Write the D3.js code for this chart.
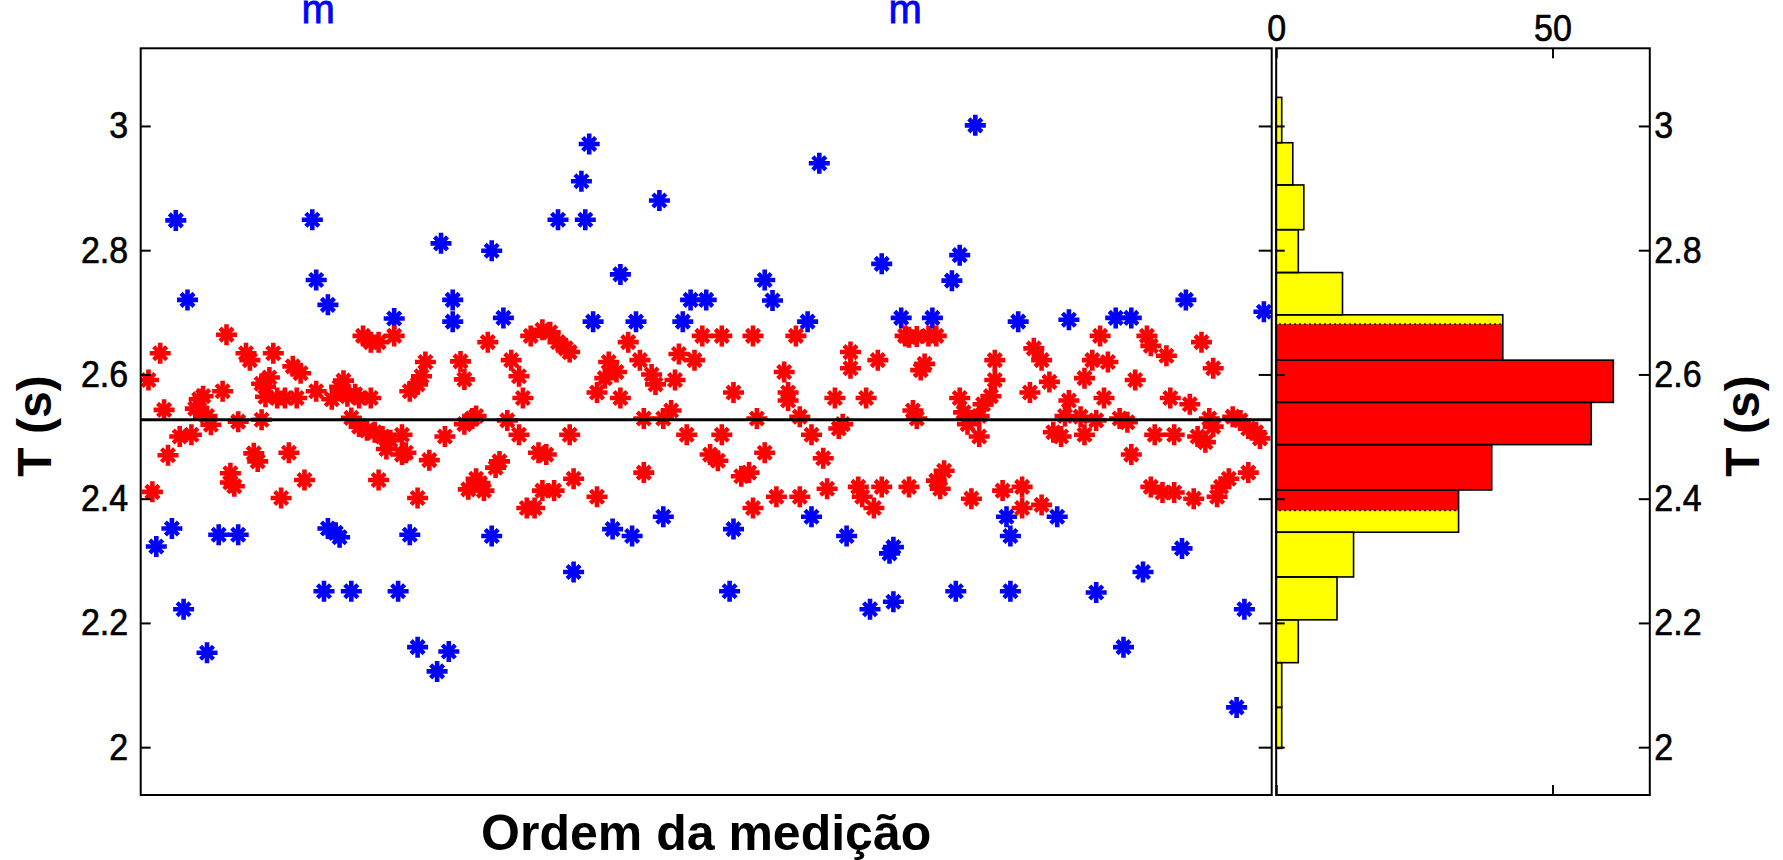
<!DOCTYPE html>
<html><head><meta charset="utf-8">
<script src="https://cdn.jsdelivr.net/npm/d3@7"></script>
<style>html,body{margin:0;padding:0;background:#fff;} svg{display:block;}</style>
</head><body>
<svg id="chart" width="1783" height="860"></svg>
<script>
// ---------------- data ----------------
const ordem = [
 2,3,4,5,6,7,8,9,10,11, 12,13,14,15,16,17,17,18,20,21, 22,23,23,24,25,25,27,28,29,30,
 31,31,32,32,33,34,35,36,37,38, 39,40,41,42,44,45,45,47,48,
 48,49,50,51,51,52,53,54,54,55, 56,56,57,58,59,59,60,61,61,62, 63,64,65,65,66,67,67,68,69,69,
 71,71,71,72,73,74,76,77,78,79, 80,80,82,83,83,84,85,86,86,87, 88,89,90,90,91,92,
 93,94,95,97,97,98,99,100,101,102, 103,103,104,105,106,107,107,109,110,110, 111,111,113,114,115,116,117,117,119,120,
 121,122,123,123,125,126,127,128,129,129, 131,132,133,134,134,136,137,138,139,140, 141,
 142,144,145,146,148,149,149,151,152,152, 154,156,157,157,158,160,160,162,163,165, 166,166,168,169,169,171,172,172,174,175,
 176,178,179,180,181,182,182,184,185,186, 187,188,189,190,190,
 192,193,193,195,196,197,197,198,199,199, 200,201,202,203,204,204,205,206,208,209, 210,210,211,212,213,214,215,215,216,218,
 219,219,221,222,223,223,225,226,226,228, 229,231,231,233,234,235,236,237,238,238,
 241,242,242,244,245,245,246,247,248,250, 251,252,253,254,254,255,257,258,259,259, 260,262,263,264,265,265,267,268,269,270,
 271,272,273,274,275,275,276,277,279,280, 281,282,283,284,284,286,287,288
];
const periodo = [
 2.591,2.411,2.323,2.634,2.543,2.470,2.352,2.848,2.500,2.222, 2.720,2.503,2.545,2.560,2.565,2.152,2.533,2.519,2.342,2.573,
 2.664,2.441,2.426,2.420,2.342,2.524,2.634,2.623,2.473,2.460, 2.585,2.527,2.564,2.580,2.595,2.634,2.562,2.401,2.562,2.474,
 2.613,2.562,2.602,2.430,2.849,2.573,2.752,2.251,2.712,
 2.352,2.560,2.345,2.580,2.338,2.590,2.565,2.251,2.530,2.568, 2.516,2.562,2.662,2.510,2.562,2.652,2.507,2.430,2.652,2.500,
 2.480,2.494,2.690,2.662,2.251,2.503,2.471,2.474,2.342,2.573, 2.584,2.161,2.401,2.597,2.620,2.462,2.122,2.811,2.500,2.154,
 2.685,2.720,2.621,2.520,2.592,2.415,2.529,2.533,2.432,2.425, 2.413,2.652,2.799,2.340,2.450,2.460,
 2.691,2.526,2.623,2.597,2.503,2.562,2.385,2.662,2.385,2.474, 2.413,2.672,2.471,2.668,2.413,2.849,2.652,2.642,2.636,2.503,
 2.432,2.282,2.911,2.849,2.971,2.685,2.403,2.571,2.594,2.620, 2.351,2.604,2.562,2.761,2.652,2.340,2.685,2.623,2.442,2.529,
 2.600,2.584,2.880,2.529,2.371,2.542,2.591,2.633,2.685,2.503, 2.720,
 2.623,2.662,2.720,2.471,2.461,2.503,2.662,2.251,2.571,2.351, 2.436,2.442,2.662,2.385,2.529,2.474,2.752,2.719,2.403,2.604,
 2.571,2.558,2.662,2.403,2.532,2.685,2.503,2.371,2.940,2.465, 2.416,2.562,2.513,2.520,2.340,2.610,2.636,2.419,2.403,2.562,
 2.222,2.385,2.623,2.419,2.778,
 2.312,2.234,2.322,2.691,2.662,2.419,2.660,2.542,2.661,2.529, 2.607,2.617,2.662,2.691,2.662,2.429,2.416,2.445,2.751,2.251,
 2.792,2.562,2.539,2.520,2.400,3.001,2.500,2.533,2.552,2.565, 2.591,2.623,2.413,2.371,2.251,2.340,2.685,2.385,2.419,2.571,
 2.642,2.390,2.623,2.588,2.507,2.371,2.500,2.533,2.688,2.558,
 2.532,2.503,2.594,2.623,2.249,2.526,2.662,2.562,2.620,2.691, 2.529,2.161,2.523,2.471,2.691,2.591,2.282,2.662,2.646,2.419,
 2.503,2.410,2.630,2.562,2.410,2.503,2.320,2.720,2.552,2.400, 2.500,2.652,2.491,2.529,2.610,2.516,2.403,2.419,2.432,2.532,
 2.064,2.526,2.222,2.513,2.442,2.507,2.497,2.701
];
const media = 2.527;          // mean line
const limInf = 2.381;         // lower limit of accepted band
const limSup = 2.681;         // upper limit of accepted band

const binEdges = [1.998,2.064,2.136,2.205,2.274,2.346,2.414,2.487,2.555,2.623,2.696,2.764,2.833,2.905,2.973,3.046];
const contagens = [1,1,4,11,14,33,39,57,61,41,12,4,5,3,1];

const yTicks = [2, 2.2, 2.4, 2.6, 2.8, 3];
const yTickLabels = ["2","2.2","2.4","2.6","2.8","3"];
const histTicks = [0, 50];
const histTickLabels = ["0","50"];
const xLim = [0, 290];
const yLim = [1.923, 3.125];
const histLim = [0, 67.6];
const topLabels = ["m", "m"];
const topLabelOrdem = [45.5, 196];
const xTitle = "Ordem da medição";
const yTitle = "T (s)";

// ---------------- layout ----------------
const FONT = "'Liberation Sans', Arial, Helvetica, sans-serif";
const L = {x0: 140.7, x1: 1271.7, y0: 48.3, y1: 795};
const H = {x0: 1276.2, x1: 1649.8};
const svg = d3.select("#chart");

const x = d3.scaleLinear().domain(xLim).range([L.x0, L.x1]);
const y = d3.scaleLinear().domain(yLim).range([L.y1, L.y0]);
const hx = d3.scaleLinear().domain(histLim).range([H.x0, H.x1]);

const pts = ordem.map((o, i) => ({o, t: periodo[i]}));
const cor = t => (t >= limInf && t <= limSup) ? "#ff0000" : "#0000ff";

// clip for scatter panel
svg.append("clipPath").attr("id", "clipL").append("rect")
  .attr("x", L.x0).attr("y", L.y0).attr("width", L.x1 - L.x0).attr("height", L.y1 - L.y0);

// scatter markers ('*')
const plus = "M-10.5,0H10.5M0,-10.5V10.5";
const cross = "M-6.5,-6.5L6.5,6.5M-6.5,6.5L6.5,-6.5";
const mg = svg.append("g").attr("clip-path", "url(#clipL)")
  .selectAll("g").data(pts).join("g")
  .attr("transform", d => `translate(${x(d.o)},${y(d.t)})`)
  .attr("fill", "none")
  .attr("stroke", d => cor(d.t));
mg.append("path").attr("d", plus).attr("stroke-width", 4.6);
mg.append("path").attr("d", cross).attr("stroke-width", 4.4);

// mean line
svg.append("line")
  .attr("x1", x(xLim[0])).attr("x2", x(xLim[1]))
  .attr("y1", y(media)).attr("y2", y(media))
  .attr("stroke", "#000").attr("stroke-width", 3);

// histogram
const bins = contagens.map((c, i) => ({lo: binEdges[i], hi: binEdges[i + 1], c}));
const hg = svg.append("g");
hg.selectAll("rect.am").data(bins).join("rect").attr("class", "am")
  .attr("x", hx(0)).attr("width", d => hx(d.c) - hx(0))
  .attr("y", d => y(d.hi)).attr("height", d => y(d.lo) - y(d.hi))
  .attr("fill", "#ffff00");
hg.selectAll("rect.vm").data(bins.filter(d => Math.min(d.hi, limSup) > Math.max(d.lo, limInf))).join("rect").attr("class", "vm")
  .attr("x", hx(0)).attr("width", d => hx(d.c) - hx(0))
  .attr("y", d => y(Math.min(d.hi, limSup))).attr("height", d => y(Math.max(d.lo, limInf)) - y(Math.min(d.hi, limSup)))
  .attr("fill", "#ff0000");
const cuts = [];
bins.forEach(d => {
  [limInf, limSup].forEach(l => { if (l > d.lo && l < d.hi) cuts.push({l, c: d.c}); });
});
hg.selectAll("line.cut").data(cuts).join("line").attr("class", "cut")
  .attr("x1", hx(0) + 3).attr("x2", d => hx(d.c) - 2)
  .attr("y1", d => y(d.l)).attr("y2", d => y(d.l))
  .attr("stroke", "#000").attr("stroke-width", 1.6).attr("stroke-dasharray", "1.6,3.4");
hg.selectAll("rect.ol").data(bins).join("rect").attr("class", "ol")
  .attr("x", hx(0)).attr("width", d => hx(d.c) - hx(0))
  .attr("y", d => y(d.hi)).attr("height", d => y(d.lo) - y(d.hi))
  .attr("fill", "none").attr("stroke", "#000").attr("stroke-width", 1.6);

// axes
function styleAxis(g, size) {
  g.select(".domain").remove();
  g.selectAll(".tick line").attr("stroke", "#000").attr("stroke-width", 2);
  g.selectAll(".tick text").attr("font-family", FONT).attr("font-size", size).attr("fill", "#000")
    .attr("stroke", "#000").attr("stroke-width", 0.6)
    .attr("transform", "scale(1,1.1)");
}
svg.append("g").attr("transform", `translate(${L.x0},0)`)
  .call(d3.axisLeft(y).tickValues(yTicks).tickFormat((d, i) => yTickLabels[i]).tickSize(-10).tickPadding(12.5))
  .call(g => styleAxis(g, 34));
svg.append("g").attr("transform", `translate(${L.x1},0)`)
  .call(d3.axisRight(y).tickValues(yTicks).tickFormat("").tickSize(-13))
  .call(g => styleAxis(g, 34));
svg.append("g").attr("transform", `translate(${H.x0},0)`)
  .call(d3.axisLeft(y).tickValues(yTicks).tickFormat("").tickSize(-8.5))
  .call(g => styleAxis(g, 34));
svg.append("g").attr("transform", `translate(${H.x1},0)`)
  .call(d3.axisRight(y).tickValues(yTicks).tickFormat((d, i) => yTickLabels[i]).tickSize(-11).tickPadding(4.5))
  .call(g => styleAxis(g, 34));
svg.append("g").attr("transform", `translate(0,${L.y0})`)
  .call(d3.axisTop(hx).tickValues(histTicks).tickFormat((d, i) => histTickLabels[i]).tickSize(-10).tickPadding(7))
  .call(g => styleAxis(g, 34));
svg.append("g").attr("transform", `translate(0,${L.y1})`)
  .call(d3.axisBottom(hx).tickValues(histTicks).tickFormat("").tickSize(-10))
  .call(g => styleAxis(g, 34));

// panel borders
svg.append("rect").attr("x", L.x0).attr("y", L.y0).attr("width", L.x1 - L.x0).attr("height", L.y1 - L.y0)
  .attr("fill", "none").attr("stroke", "#000").attr("stroke-width", 2);
svg.append("rect").attr("x", H.x0).attr("y", L.y0).attr("width", H.x1 - H.x0).attr("height", L.y1 - L.y0)
  .attr("fill", "none").attr("stroke", "#000").attr("stroke-width", 2);

// titles
svg.append("text").attr("transform", `translate(51,426) rotate(-90)`)
  .attr("text-anchor", "middle").attr("font-family", FONT).attr("font-weight", "bold").attr("font-size", 48)
  .text(yTitle);
svg.append("text").attr("transform", `translate(1759,426) rotate(-90)`)
  .attr("text-anchor", "middle").attr("font-family", FONT).attr("font-weight", "bold").attr("font-size", 48)
  .text(yTitle);
svg.append("text").attr("x", (L.x0 + L.x1) / 2).attr("y", 850)
  .attr("text-anchor", "middle").attr("font-family", FONT).attr("font-weight", "bold").attr("font-size", 50)
  .text(xTitle);
svg.selectAll("text.top").data(topLabels).join("text").attr("class", "top")
  .attr("x", (d, i) => x(topLabelOrdem[i])).attr("y", 23)
  .attr("text-anchor", "middle").attr("font-family", FONT).attr("font-size", 40).attr("fill", "#0000ff")
  .attr("stroke", "#0000ff").attr("stroke-width", 0.8)
  .text(d => d);
</script>
</body></html>
